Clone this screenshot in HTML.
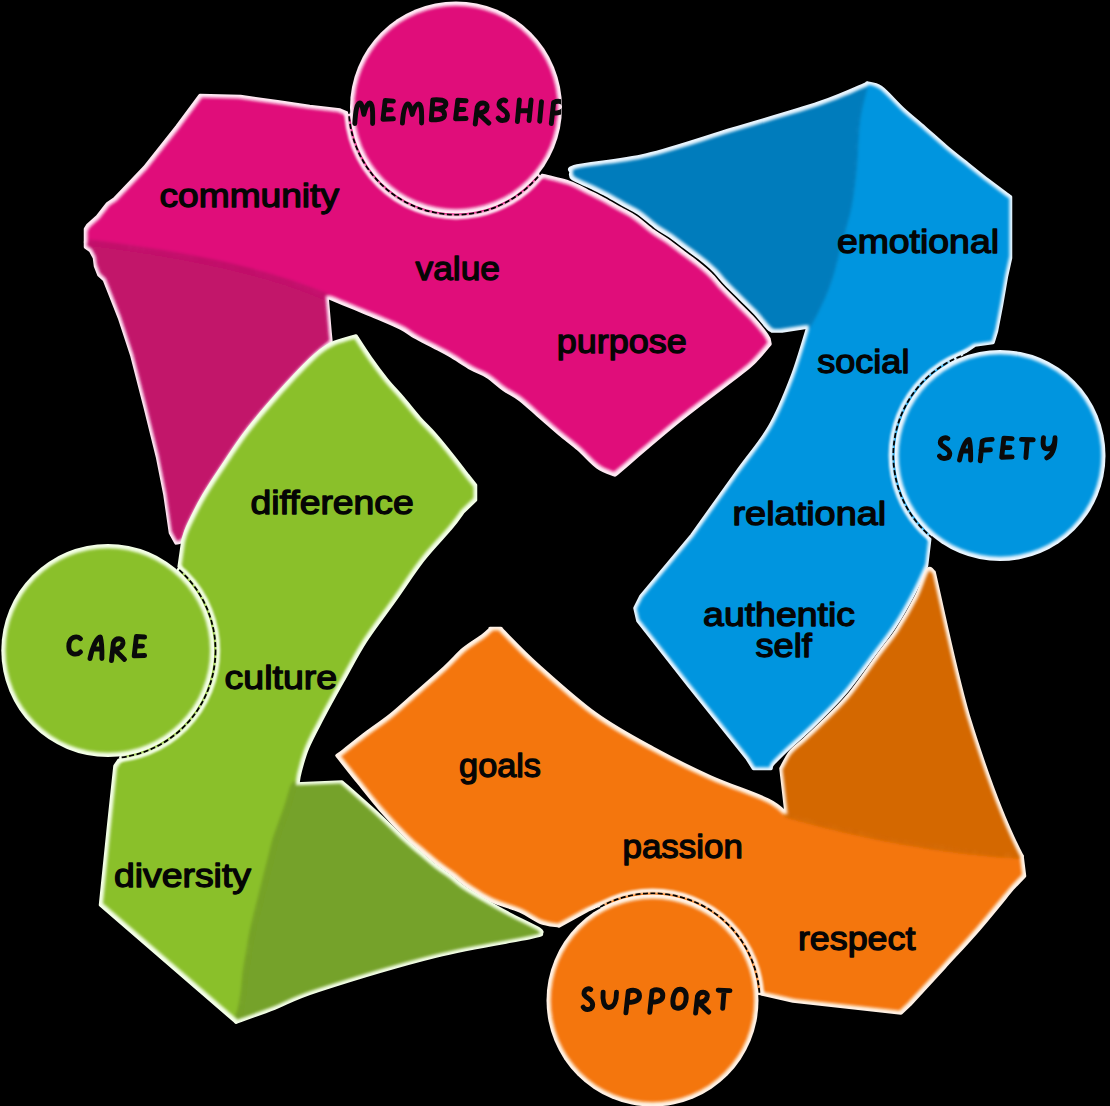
<!DOCTYPE html>
<html><head><meta charset="utf-8"><title>Belonging</title>
<style>
html,body{margin:0;padding:0;background:#000;width:1110px;height:1106px;overflow:hidden}
svg{display:block}
.lbl{font-family:"Liberation Sans",sans-serif;font-weight:normal;fill:#050505;stroke:#050505;stroke-width:1.3px;stroke-linejoin:round}
.hd{fill:none;stroke:#0a0a0a;stroke-linecap:round;stroke-linejoin:round}
</style></head>
<body>
<svg width="1110" height="1106" viewBox="0 0 1110 1106">
<defs>
<filter id="bl1" x="-5%" y="-5%" width="110%" height="110%"><feGaussianBlur stdDeviation="1.5"/></filter>
<filter id="er1" x="-5%" y="-5%" width="110%" height="110%"><feMorphology operator="erode" radius="1.6"/><feGaussianBlur stdDeviation="1.6"/></filter>
<filter id="bl0" x="-5%" y="-5%" width="110%" height="110%"><feGaussianBlur stdDeviation="0.9"/></filter>
<filter id="bl2" x="-5%" y="-5%" width="110%" height="110%"><feGaussianBlur stdDeviation="2.2"/></filter>
<clipPath id="clipMem"><circle cx="456" cy="107.5" r="105.5"/></clipPath>
<clipPath id="cp_mg"><path d="M85.5,229 L88,225 L97.5,216.6 L107.6,203.6 L114.5,199 L144.5,167.5 L177,126.5 L200,95.5 L240.5,96.6 L279.5,102 L309.7,106.4 L340,110 L456,160 L545,176 C549.1,177.1 562.7,180.1 569.8,182.6 C576.9,185.1 582.1,188.4 587.8,191.2 C593.5,194.0 598.4,196.3 603.8,199.2 C609.2,202.1 615.0,205.6 620.3,208.6 C625.6,211.6 630.0,213.5 635.5,217.2 C641.0,220.9 647.7,227.1 653.0,231.0 C658.3,234.9 662.7,237.1 667.5,240.5 C672.3,243.9 677.0,247.6 681.8,251.2 C686.6,254.8 691.5,258.2 696.3,262.0 C701.0,265.8 705.9,269.7 710.3,274.0 C714.7,278.3 718.3,283.3 722.8,288.0 C727.3,292.7 732.4,297.6 737.2,302.4 C742.0,307.2 747.0,311.9 751.6,316.8 C756.2,321.7 761.7,328.3 764.6,332.0 C767.5,335.7 768.3,337.8 769.0,339.0 L770,344 C768.0,346.3 762.7,353.2 758.0,358.0 C753.3,362.8 755.2,362.0 742.0,372.5 C728.8,383.0 700.2,403.9 679.0,421.0 C657.8,438.1 625.7,466.0 615.0,475.0 C612.1,473.7 603.6,471.3 597.5,467.0 C591.4,462.7 584.8,454.7 578.5,449.2 C572.2,443.7 565.8,439.3 559.5,434.0 C553.2,428.7 547.1,423.2 540.5,417.5 C533.9,411.8 526.1,404.2 520.0,399.5 C513.9,394.8 509.1,393.1 503.6,389.3 C498.2,385.5 492.7,380.0 487.3,376.5 C481.9,373.0 477.2,372.0 471.0,368.5 C464.8,365.0 456.0,358.9 449.8,355.3 C443.6,351.7 439.5,349.7 433.6,346.6 C427.7,343.5 420.0,339.9 414.6,336.8 C409.2,333.7 407.4,331.4 401.0,328.1 C394.6,324.9 384.2,320.6 376.5,317.3 C368.8,314.0 363.2,311.9 355.0,308.5 C346.8,305.1 331.7,298.9 327.0,297.0 C250,264 150,250 85.5,242 Z"/><path d="M85.5,242 C150,250 250,264 327,297 L330,332 L331,342 C327.7,344.8 320.0,350.2 311.0,359.0 C302.0,367.8 287.8,382.8 277.0,395.0 C266.2,407.2 254.8,420.5 246.0,432.0 C237.2,443.5 231.0,453.5 224.0,464.0 C217.0,474.5 210.0,484.7 204.0,495.0 C198.0,505.3 191.5,518.5 188.0,526.0 C184.5,533.5 185.0,537.2 183.0,540.0 C181.0,542.8 177.2,542.5 176.0,543.0 L170.5,533 L165,495 L157.5,457 L145,406.6 L132,356 L119.5,318 L104.5,280 L99,275 L95.5,266 L94.5,258 L90.5,250.5 L85.5,247 Z"/></clipPath><clipPath id="cp_bl"><path d="M571,172 C572.0,171.0 564.4,168.8 577.0,166.0 C589.6,163.2 620.5,161.2 646.5,155.0 C672.5,148.8 704.2,137.7 733.0,129.0 C761.8,120.3 796.7,110.6 819.0,103.0 C841.3,95.4 859.0,86.8 867.0,83.5 C865.7,89.4 860.9,105.0 859.0,119.0 C857.1,133.0 857.0,153.4 855.6,167.6 C854.2,181.8 853.1,191.8 850.7,204.0 C848.3,216.2 844.2,228.5 841.0,240.7 C837.8,252.9 834.5,267.1 831.2,277.3 C828.0,287.5 824.8,294.4 821.5,301.7 C818.2,309.0 814.0,317.0 811.7,321.2 C809.5,325.4 808.6,326.0 808.0,327.0 L782,331 L772,331 C771.3,330.5 770.8,331.0 767.9,328.0 C765.0,325.0 759.5,317.7 754.9,312.8 C750.3,307.9 745.3,303.2 740.5,298.4 C735.7,293.6 730.5,288.7 726.0,284.0 C721.5,279.3 717.9,274.3 713.5,270.0 C709.1,265.7 704.3,261.8 699.5,258.0 C694.7,254.2 689.7,250.8 684.9,247.2 C680.1,243.6 675.3,239.7 670.5,236.3 C665.7,232.9 661.3,230.9 656.0,227.0 C650.7,223.1 644.0,216.8 638.5,213.0 C633.0,209.2 628.3,207.4 623.0,204.4 C617.7,201.4 611.9,197.9 606.5,195.0 C601.1,192.1 596.2,189.8 590.5,187.0 C584.8,184.2 575.8,180.9 572.5,178.4 C569.2,175.9 571.2,173.1 571.0,172.0 Z"/><path d="M867,83 C869.3,83.8 875.0,83.2 881.0,87.5 C887.0,91.8 895.8,102.3 903.0,109.0 C910.2,115.7 917.3,121.2 924.5,127.5 C931.7,133.8 938.8,140.4 946.0,146.5 C953.2,152.6 960.3,158.1 967.5,163.8 C974.7,169.6 981.8,175.5 989.0,181.0 C996.2,186.5 1006.9,194.3 1010.5,197.0 L1010.5,258 L1006.5,276 L1001.5,305 L996.5,331 L993,342.5 L975,345 L950,362 L929,545 L926.5,566 C924.4,570.6 918.9,583.5 913.6,593.6 C908.3,603.7 900.9,616.9 894.6,626.6 C888.3,636.3 884.3,640.9 876.0,652.0 C867.7,663.1 854.9,681.2 845.0,693.0 C835.1,704.8 823.7,715.3 816.5,722.5 C809.3,729.7 806.8,731.8 802.0,736.2 C797.2,740.7 792.4,744.6 787.6,749.2 C782.8,753.8 775.9,760.5 773.1,763.7 C770.3,766.9 771.4,767.7 771.0,768.5 L753.5,768.5 L747.5,759 L689,686 L638,621 L635,608  L641,596 L692,535 C699.5,524.5 724.1,490.0 737.0,472.0 C749.9,454.0 760.3,442.8 769.5,427.0 C778.7,411.2 785.6,393.7 792.0,377.0 C798.4,360.3 805.3,335.3 808.0,327.0 C808.6,326.0 809.5,325.4 811.7,321.2 C814.0,317.0 818.2,309.0 821.5,301.7 C824.8,294.4 828.0,287.5 831.2,277.3 C834.5,267.1 837.8,252.9 841.0,240.7 C844.2,228.5 848.3,216.2 850.7,204.0 C853.1,191.8 854.2,181.8 855.6,167.6 C857.0,153.4 857.1,133.0 859.0,119.0 C860.9,105.0 865.7,89.4 867.0,83.5 Z"/></clipPath><clipPath id="cp_or"><path d="M490,628.5 L501,628.5 C501.8,629.4 499.9,627.9 506.0,634.0 C512.1,640.1 522.7,651.7 537.6,665.0 C552.5,678.3 576.1,699.8 595.3,713.7 C614.5,727.6 633.8,737.8 653.0,748.3 C672.2,758.8 691.4,768.4 710.6,777.0 C729.8,785.6 755.1,793.7 768.0,800.0 C780.9,806.3 784.7,812.5 788.0,815.0 C870,838 950,852 1022,856 L1024.5,876 L1013,888 C1007.3,894.8 990.4,915.8 979.0,929.0 C967.6,942.2 956.0,954.4 944.5,967.0 C933.0,979.6 915.8,998.2 910.0,1004.5 L901,1013 L793,1001 L700,980 L600,905 L588,910 L559,926 C555.8,925.3 546.5,924.5 540.0,922.0 C533.5,919.5 528.2,914.6 520.0,911.0 C511.8,907.4 499.8,904.5 491.0,900.3 C482.2,896.1 473.3,890.0 467.0,885.8 C460.7,881.5 458.0,878.5 453.0,874.8 C448.0,871.0 442.3,867.5 437.0,863.3 C431.7,859.1 426.2,854.2 421.0,849.8 C415.8,845.4 412.8,843.6 406.0,836.8 C399.2,830.0 388.0,818.1 380.0,809.0 C372.0,799.9 365.2,790.9 358.0,782.0 C350.8,773.1 340.5,759.9 337.0,755.5 C339.4,754.3 341.8,752.2 346.5,748.5 C351.2,744.8 358.7,738.7 366.0,733.2 C373.3,727.7 382.2,721.9 390.3,715.4 C398.4,708.9 405.4,702.3 414.5,694.3 C423.6,686.3 436.6,675.0 444.8,667.5 C453.0,660.0 457.2,654.5 463.5,649.2 C469.8,643.9 477.9,639.4 482.5,635.9 C487.1,632.4 489.6,629.7 491.0,628.5 Z"/><path d="M781,768.5 C782.6,765.8 786.4,756.9 790.4,752.0 C794.4,747.1 800.0,743.5 804.8,739.0 C809.6,734.5 812.1,732.5 819.3,725.3 C826.5,718.1 838.0,707.9 848.0,696.0 C858.0,684.1 870.8,665.1 879.0,654.0 C887.2,642.9 891.2,639.0 897.4,629.4 C903.6,619.8 911.4,606.3 916.4,596.4 C921.4,586.5 924.5,574.1 927.4,570.0 C930.3,565.9 932.9,571.7 934.0,572.0 C945,620 955,670 968,715 C985,770 1003,820 1022,856 C950,852 870,838 788,815 L786,812 Z"/></clipPath><clipPath id="cp_gr"><path d="M356,336 C358.4,339.7 365.4,350.7 370.5,358.0 C375.6,365.3 381.4,373.1 386.8,379.8 C392.2,386.5 397.6,391.9 403.0,398.2 C408.4,404.5 413.9,411.6 419.3,417.8 C424.7,424.0 429.9,428.5 435.6,435.1 C441.4,441.7 448.5,450.6 453.8,457.3 C459.1,464.0 465.3,472.2 467.6,475.2 L475.5,485 L475.5,500 L463,512 C461.0,514.7 457.7,520.0 451.0,528.0 C444.3,536.0 432.4,547.9 423.0,560.0 C413.6,572.1 404.1,587.0 394.5,600.5 C384.9,614.0 374.2,627.5 365.5,641.0 C356.8,654.5 349.8,668.5 342.5,681.5 C335.2,694.5 327.8,707.9 322.0,719.0 C316.2,730.1 311.2,739.2 307.5,748.0 C303.8,756.8 301.6,766.2 300.0,772.0 C298.4,777.8 298.3,781.2 298.0,783.0 L293,788 C292.0,791.3 288.8,802.3 287.0,808.0 C285.2,813.7 284.0,816.3 282.0,822.0 C280.0,827.7 276.9,835.7 275.0,842.0 C273.1,848.3 272.2,853.4 270.5,860.0 C268.8,866.6 266.7,874.8 265.0,881.5 C263.3,888.2 262.4,891.9 260.4,900.0 C258.4,908.1 255.0,920.8 253.0,930.0 C251.0,939.2 249.8,947.7 248.5,955.0 C247.2,962.3 246.2,967.7 245.3,974.0 C244.5,980.3 244.3,986.7 243.4,993.0 C242.5,999.3 241.2,1007.2 240.0,1012.0 C238.8,1016.8 236.7,1020.3 236.0,1022.0 L100.5,905 L108.5,827 L115,766 L160,700 L183,540 C183.8,537.7 184.5,533.5 188.0,526.0 C191.5,518.5 198.0,505.3 204.0,495.0 C210.0,484.7 217.0,474.5 224.0,464.0 C231.0,453.5 237.2,443.5 246.0,432.0 C254.8,420.5 266.2,407.2 277.0,395.0 C287.8,382.8 302.0,367.5 311.0,359.0 C320.0,350.5 323.5,347.8 331.0,344.0 C338.5,340.2 351.8,337.3 356.0,336.0 Z"/><path d="M293,788 L296,784 L342,782 C348.2,787.5 368.7,805.5 379.0,815.0 C389.3,824.5 397.3,833.0 404.0,839.2 C410.7,845.4 413.8,847.8 419.0,852.2 C424.2,856.6 429.7,861.5 435.0,865.7 C440.3,869.9 446.0,873.5 451.0,877.2 C456.0,881.0 458.7,884.0 465.0,888.2 C471.3,892.5 481.5,898.4 489.0,902.7 C496.5,907.0 501.5,909.8 509.8,914.2 C518.1,918.6 533.8,925.7 539.0,929.0 C544.2,932.3 540.7,933.2 541.0,934.0 C539.2,934.6 547.5,933.8 530.0,937.5 C512.5,941.2 471.4,947.2 436.0,956.0 C400.6,964.8 344.7,981.8 317.8,990.5 C290.9,999.2 288.2,1002.8 274.6,1008.0 C261.0,1013.2 242.4,1019.7 236.0,1022.0 C236.7,1020.3 238.8,1016.8 240.0,1012.0 C241.2,1007.2 242.5,999.3 243.4,993.0 C244.3,986.7 244.5,980.3 245.3,974.0 C246.2,967.7 247.2,962.3 248.5,955.0 C249.8,947.7 251.0,939.2 253.0,930.0 C255.0,920.8 258.4,908.1 260.4,900.0 C262.4,891.9 263.3,888.2 265.0,881.5 C266.7,874.8 268.8,866.6 270.5,860.0 C272.2,853.4 273.1,848.3 275.0,842.0 C276.9,835.7 280.0,827.7 282.0,822.0 C284.0,816.3 285.2,813.7 287.0,808.0 C288.8,802.3 292.0,791.3 293.0,788.0 Z"/></clipPath>
</defs>
<rect width="1110" height="1106" fill="#000"/>

<g>
<path d="M85.5,229 L88,225 L97.5,216.6 L107.6,203.6 L114.5,199 L144.5,167.5 L177,126.5 L200,95.5 L240.5,96.6 L279.5,102 L309.7,106.4 L340,110 L456,160 L545,176 C549.1,177.1 562.7,180.1 569.8,182.6 C576.9,185.1 582.1,188.4 587.8,191.2 C593.5,194.0 598.4,196.3 603.8,199.2 C609.2,202.1 615.0,205.6 620.3,208.6 C625.6,211.6 630.0,213.5 635.5,217.2 C641.0,220.9 647.7,227.1 653.0,231.0 C658.3,234.9 662.7,237.1 667.5,240.5 C672.3,243.9 677.0,247.6 681.8,251.2 C686.6,254.8 691.5,258.2 696.3,262.0 C701.0,265.8 705.9,269.7 710.3,274.0 C714.7,278.3 718.3,283.3 722.8,288.0 C727.3,292.7 732.4,297.6 737.2,302.4 C742.0,307.2 747.0,311.9 751.6,316.8 C756.2,321.7 761.7,328.3 764.6,332.0 C767.5,335.7 768.3,337.8 769.0,339.0 L770,344 C768.0,346.3 762.7,353.2 758.0,358.0 C753.3,362.8 755.2,362.0 742.0,372.5 C728.8,383.0 700.2,403.9 679.0,421.0 C657.8,438.1 625.7,466.0 615.0,475.0 C612.1,473.7 603.6,471.3 597.5,467.0 C591.4,462.7 584.8,454.7 578.5,449.2 C572.2,443.7 565.8,439.3 559.5,434.0 C553.2,428.7 547.1,423.2 540.5,417.5 C533.9,411.8 526.1,404.2 520.0,399.5 C513.9,394.8 509.1,393.1 503.6,389.3 C498.2,385.5 492.7,380.0 487.3,376.5 C481.9,373.0 477.2,372.0 471.0,368.5 C464.8,365.0 456.0,358.9 449.8,355.3 C443.6,351.7 439.5,349.7 433.6,346.6 C427.7,343.5 420.0,339.9 414.6,336.8 C409.2,333.7 407.4,331.4 401.0,328.1 C394.6,324.9 384.2,320.6 376.5,317.3 C368.8,314.0 363.2,311.9 355.0,308.5 C346.8,305.1 331.7,298.9 327.0,297.0 C250,264 150,250 85.5,242 Z" fill="#FFEAF4" stroke="#FFEAF4" stroke-width="3.5" stroke-linejoin="round"/>
<path d="M85.5,242 C150,250 250,264 327,297 L330,332 L331,342 C327.7,344.8 320.0,350.2 311.0,359.0 C302.0,367.8 287.8,382.8 277.0,395.0 C266.2,407.2 254.8,420.5 246.0,432.0 C237.2,443.5 231.0,453.5 224.0,464.0 C217.0,474.5 210.0,484.7 204.0,495.0 C198.0,505.3 191.5,518.5 188.0,526.0 C184.5,533.5 185.0,537.2 183.0,540.0 C181.0,542.8 177.2,542.5 176.0,543.0 L170.5,533 L165,495 L157.5,457 L145,406.6 L132,356 L119.5,318 L104.5,280 L99,275 L95.5,266 L94.5,258 L90.5,250.5 L85.5,247 Z" fill="#FFEAF4" stroke="#FFEAF4" stroke-width="3.5" stroke-linejoin="round"/>
<g filter="url(#er1)">
<path d="M85.5,229 L88,225 L97.5,216.6 L107.6,203.6 L114.5,199 L144.5,167.5 L177,126.5 L200,95.5 L240.5,96.6 L279.5,102 L309.7,106.4 L340,110 L456,160 L545,176 C549.1,177.1 562.7,180.1 569.8,182.6 C576.9,185.1 582.1,188.4 587.8,191.2 C593.5,194.0 598.4,196.3 603.8,199.2 C609.2,202.1 615.0,205.6 620.3,208.6 C625.6,211.6 630.0,213.5 635.5,217.2 C641.0,220.9 647.7,227.1 653.0,231.0 C658.3,234.9 662.7,237.1 667.5,240.5 C672.3,243.9 677.0,247.6 681.8,251.2 C686.6,254.8 691.5,258.2 696.3,262.0 C701.0,265.8 705.9,269.7 710.3,274.0 C714.7,278.3 718.3,283.3 722.8,288.0 C727.3,292.7 732.4,297.6 737.2,302.4 C742.0,307.2 747.0,311.9 751.6,316.8 C756.2,321.7 761.7,328.3 764.6,332.0 C767.5,335.7 768.3,337.8 769.0,339.0 L770,344 C768.0,346.3 762.7,353.2 758.0,358.0 C753.3,362.8 755.2,362.0 742.0,372.5 C728.8,383.0 700.2,403.9 679.0,421.0 C657.8,438.1 625.7,466.0 615.0,475.0 C612.1,473.7 603.6,471.3 597.5,467.0 C591.4,462.7 584.8,454.7 578.5,449.2 C572.2,443.7 565.8,439.3 559.5,434.0 C553.2,428.7 547.1,423.2 540.5,417.5 C533.9,411.8 526.1,404.2 520.0,399.5 C513.9,394.8 509.1,393.1 503.6,389.3 C498.2,385.5 492.7,380.0 487.3,376.5 C481.9,373.0 477.2,372.0 471.0,368.5 C464.8,365.0 456.0,358.9 449.8,355.3 C443.6,351.7 439.5,349.7 433.6,346.6 C427.7,343.5 420.0,339.9 414.6,336.8 C409.2,333.7 407.4,331.4 401.0,328.1 C394.6,324.9 384.2,320.6 376.5,317.3 C368.8,314.0 363.2,311.9 355.0,308.5 C346.8,305.1 331.7,298.9 327.0,297.0 C250,264 150,250 85.5,242 Z" fill="#E0117A"/>
<path d="M85.5,242 C150,250 250,264 327,297 L330,332 L331,342 C327.7,344.8 320.0,350.2 311.0,359.0 C302.0,367.8 287.8,382.8 277.0,395.0 C266.2,407.2 254.8,420.5 246.0,432.0 C237.2,443.5 231.0,453.5 224.0,464.0 C217.0,474.5 210.0,484.7 204.0,495.0 C198.0,505.3 191.5,518.5 188.0,526.0 C184.5,533.5 185.0,537.2 183.0,540.0 C181.0,542.8 177.2,542.5 176.0,543.0 L170.5,533 L165,495 L157.5,457 L145,406.6 L132,356 L119.5,318 L104.5,280 L99,275 L95.5,266 L94.5,258 L90.5,250.5 L85.5,247 Z" fill="#C2126A" stroke="#C2126A" stroke-width="1.6" stroke-linejoin="round"/>
</g>
</g>
<g>
<path d="M571,172 C572.0,171.0 564.4,168.8 577.0,166.0 C589.6,163.2 620.5,161.2 646.5,155.0 C672.5,148.8 704.2,137.7 733.0,129.0 C761.8,120.3 796.7,110.6 819.0,103.0 C841.3,95.4 859.0,86.8 867.0,83.5 C865.7,89.4 860.9,105.0 859.0,119.0 C857.1,133.0 857.0,153.4 855.6,167.6 C854.2,181.8 853.1,191.8 850.7,204.0 C848.3,216.2 844.2,228.5 841.0,240.7 C837.8,252.9 834.5,267.1 831.2,277.3 C828.0,287.5 824.8,294.4 821.5,301.7 C818.2,309.0 814.0,317.0 811.7,321.2 C809.5,325.4 808.6,326.0 808.0,327.0 L782,331 L772,331 C771.3,330.5 770.8,331.0 767.9,328.0 C765.0,325.0 759.5,317.7 754.9,312.8 C750.3,307.9 745.3,303.2 740.5,298.4 C735.7,293.6 730.5,288.7 726.0,284.0 C721.5,279.3 717.9,274.3 713.5,270.0 C709.1,265.7 704.3,261.8 699.5,258.0 C694.7,254.2 689.7,250.8 684.9,247.2 C680.1,243.6 675.3,239.7 670.5,236.3 C665.7,232.9 661.3,230.9 656.0,227.0 C650.7,223.1 644.0,216.8 638.5,213.0 C633.0,209.2 628.3,207.4 623.0,204.4 C617.7,201.4 611.9,197.9 606.5,195.0 C601.1,192.1 596.2,189.8 590.5,187.0 C584.8,184.2 575.8,180.9 572.5,178.4 C569.2,175.9 571.2,173.1 571.0,172.0 Z" fill="#EAF6FF" stroke="#EAF6FF" stroke-width="3.5" stroke-linejoin="round"/>
<path d="M867,83 C869.3,83.8 875.0,83.2 881.0,87.5 C887.0,91.8 895.8,102.3 903.0,109.0 C910.2,115.7 917.3,121.2 924.5,127.5 C931.7,133.8 938.8,140.4 946.0,146.5 C953.2,152.6 960.3,158.1 967.5,163.8 C974.7,169.6 981.8,175.5 989.0,181.0 C996.2,186.5 1006.9,194.3 1010.5,197.0 L1010.5,258 L1006.5,276 L1001.5,305 L996.5,331 L993,342.5 L975,345 L950,362 L929,545 L926.5,566 C924.4,570.6 918.9,583.5 913.6,593.6 C908.3,603.7 900.9,616.9 894.6,626.6 C888.3,636.3 884.3,640.9 876.0,652.0 C867.7,663.1 854.9,681.2 845.0,693.0 C835.1,704.8 823.7,715.3 816.5,722.5 C809.3,729.7 806.8,731.8 802.0,736.2 C797.2,740.7 792.4,744.6 787.6,749.2 C782.8,753.8 775.9,760.5 773.1,763.7 C770.3,766.9 771.4,767.7 771.0,768.5 L753.5,768.5 L747.5,759 L689,686 L638,621 L635,608  L641,596 L692,535 C699.5,524.5 724.1,490.0 737.0,472.0 C749.9,454.0 760.3,442.8 769.5,427.0 C778.7,411.2 785.6,393.7 792.0,377.0 C798.4,360.3 805.3,335.3 808.0,327.0 C808.6,326.0 809.5,325.4 811.7,321.2 C814.0,317.0 818.2,309.0 821.5,301.7 C824.8,294.4 828.0,287.5 831.2,277.3 C834.5,267.1 837.8,252.9 841.0,240.7 C844.2,228.5 848.3,216.2 850.7,204.0 C853.1,191.8 854.2,181.8 855.6,167.6 C857.0,153.4 857.1,133.0 859.0,119.0 C860.9,105.0 865.7,89.4 867.0,83.5 Z" fill="#EAF6FF" stroke="#EAF6FF" stroke-width="3.5" stroke-linejoin="round"/>
<g filter="url(#er1)">
<path d="M571,172 C572.0,171.0 564.4,168.8 577.0,166.0 C589.6,163.2 620.5,161.2 646.5,155.0 C672.5,148.8 704.2,137.7 733.0,129.0 C761.8,120.3 796.7,110.6 819.0,103.0 C841.3,95.4 859.0,86.8 867.0,83.5 C865.7,89.4 860.9,105.0 859.0,119.0 C857.1,133.0 857.0,153.4 855.6,167.6 C854.2,181.8 853.1,191.8 850.7,204.0 C848.3,216.2 844.2,228.5 841.0,240.7 C837.8,252.9 834.5,267.1 831.2,277.3 C828.0,287.5 824.8,294.4 821.5,301.7 C818.2,309.0 814.0,317.0 811.7,321.2 C809.5,325.4 808.6,326.0 808.0,327.0 L782,331 L772,331 C771.3,330.5 770.8,331.0 767.9,328.0 C765.0,325.0 759.5,317.7 754.9,312.8 C750.3,307.9 745.3,303.2 740.5,298.4 C735.7,293.6 730.5,288.7 726.0,284.0 C721.5,279.3 717.9,274.3 713.5,270.0 C709.1,265.7 704.3,261.8 699.5,258.0 C694.7,254.2 689.7,250.8 684.9,247.2 C680.1,243.6 675.3,239.7 670.5,236.3 C665.7,232.9 661.3,230.9 656.0,227.0 C650.7,223.1 644.0,216.8 638.5,213.0 C633.0,209.2 628.3,207.4 623.0,204.4 C617.7,201.4 611.9,197.9 606.5,195.0 C601.1,192.1 596.2,189.8 590.5,187.0 C584.8,184.2 575.8,180.9 572.5,178.4 C569.2,175.9 571.2,173.1 571.0,172.0 Z" fill="#007CBC"/>
<path d="M867,83 C869.3,83.8 875.0,83.2 881.0,87.5 C887.0,91.8 895.8,102.3 903.0,109.0 C910.2,115.7 917.3,121.2 924.5,127.5 C931.7,133.8 938.8,140.4 946.0,146.5 C953.2,152.6 960.3,158.1 967.5,163.8 C974.7,169.6 981.8,175.5 989.0,181.0 C996.2,186.5 1006.9,194.3 1010.5,197.0 L1010.5,258 L1006.5,276 L1001.5,305 L996.5,331 L993,342.5 L975,345 L950,362 L929,545 L926.5,566 C924.4,570.6 918.9,583.5 913.6,593.6 C908.3,603.7 900.9,616.9 894.6,626.6 C888.3,636.3 884.3,640.9 876.0,652.0 C867.7,663.1 854.9,681.2 845.0,693.0 C835.1,704.8 823.7,715.3 816.5,722.5 C809.3,729.7 806.8,731.8 802.0,736.2 C797.2,740.7 792.4,744.6 787.6,749.2 C782.8,753.8 775.9,760.5 773.1,763.7 C770.3,766.9 771.4,767.7 771.0,768.5 L753.5,768.5 L747.5,759 L689,686 L638,621 L635,608  L641,596 L692,535 C699.5,524.5 724.1,490.0 737.0,472.0 C749.9,454.0 760.3,442.8 769.5,427.0 C778.7,411.2 785.6,393.7 792.0,377.0 C798.4,360.3 805.3,335.3 808.0,327.0 C808.6,326.0 809.5,325.4 811.7,321.2 C814.0,317.0 818.2,309.0 821.5,301.7 C824.8,294.4 828.0,287.5 831.2,277.3 C834.5,267.1 837.8,252.9 841.0,240.7 C844.2,228.5 848.3,216.2 850.7,204.0 C853.1,191.8 854.2,181.8 855.6,167.6 C857.0,153.4 857.1,133.0 859.0,119.0 C860.9,105.0 865.7,89.4 867.0,83.5 Z" fill="#0095DF" stroke="#0095DF" stroke-width="1.6" stroke-linejoin="round"/>
</g>
</g>
<g>
<path d="M490,628.5 L501,628.5 C501.8,629.4 499.9,627.9 506.0,634.0 C512.1,640.1 522.7,651.7 537.6,665.0 C552.5,678.3 576.1,699.8 595.3,713.7 C614.5,727.6 633.8,737.8 653.0,748.3 C672.2,758.8 691.4,768.4 710.6,777.0 C729.8,785.6 755.1,793.7 768.0,800.0 C780.9,806.3 784.7,812.5 788.0,815.0 C870,838 950,852 1022,856 L1024.5,876 L1013,888 C1007.3,894.8 990.4,915.8 979.0,929.0 C967.6,942.2 956.0,954.4 944.5,967.0 C933.0,979.6 915.8,998.2 910.0,1004.5 L901,1013 L793,1001 L700,980 L600,905 L588,910 L559,926 C555.8,925.3 546.5,924.5 540.0,922.0 C533.5,919.5 528.2,914.6 520.0,911.0 C511.8,907.4 499.8,904.5 491.0,900.3 C482.2,896.1 473.3,890.0 467.0,885.8 C460.7,881.5 458.0,878.5 453.0,874.8 C448.0,871.0 442.3,867.5 437.0,863.3 C431.7,859.1 426.2,854.2 421.0,849.8 C415.8,845.4 412.8,843.6 406.0,836.8 C399.2,830.0 388.0,818.1 380.0,809.0 C372.0,799.9 365.2,790.9 358.0,782.0 C350.8,773.1 340.5,759.9 337.0,755.5 C339.4,754.3 341.8,752.2 346.5,748.5 C351.2,744.8 358.7,738.7 366.0,733.2 C373.3,727.7 382.2,721.9 390.3,715.4 C398.4,708.9 405.4,702.3 414.5,694.3 C423.6,686.3 436.6,675.0 444.8,667.5 C453.0,660.0 457.2,654.5 463.5,649.2 C469.8,643.9 477.9,639.4 482.5,635.9 C487.1,632.4 489.6,629.7 491.0,628.5 Z" fill="#FFF2E6" stroke="#FFF2E6" stroke-width="3.5" stroke-linejoin="round"/>
<path d="M781,768.5 C782.6,765.8 786.4,756.9 790.4,752.0 C794.4,747.1 800.0,743.5 804.8,739.0 C809.6,734.5 812.1,732.5 819.3,725.3 C826.5,718.1 838.0,707.9 848.0,696.0 C858.0,684.1 870.8,665.1 879.0,654.0 C887.2,642.9 891.2,639.0 897.4,629.4 C903.6,619.8 911.4,606.3 916.4,596.4 C921.4,586.5 924.5,574.1 927.4,570.0 C930.3,565.9 932.9,571.7 934.0,572.0 C945,620 955,670 968,715 C985,770 1003,820 1022,856 C950,852 870,838 788,815 L786,812 Z" fill="#FFF2E6" stroke="#FFF2E6" stroke-width="3.5" stroke-linejoin="round"/>
<g filter="url(#er1)">
<path d="M490,628.5 L501,628.5 C501.8,629.4 499.9,627.9 506.0,634.0 C512.1,640.1 522.7,651.7 537.6,665.0 C552.5,678.3 576.1,699.8 595.3,713.7 C614.5,727.6 633.8,737.8 653.0,748.3 C672.2,758.8 691.4,768.4 710.6,777.0 C729.8,785.6 755.1,793.7 768.0,800.0 C780.9,806.3 784.7,812.5 788.0,815.0 C870,838 950,852 1022,856 L1024.5,876 L1013,888 C1007.3,894.8 990.4,915.8 979.0,929.0 C967.6,942.2 956.0,954.4 944.5,967.0 C933.0,979.6 915.8,998.2 910.0,1004.5 L901,1013 L793,1001 L700,980 L600,905 L588,910 L559,926 C555.8,925.3 546.5,924.5 540.0,922.0 C533.5,919.5 528.2,914.6 520.0,911.0 C511.8,907.4 499.8,904.5 491.0,900.3 C482.2,896.1 473.3,890.0 467.0,885.8 C460.7,881.5 458.0,878.5 453.0,874.8 C448.0,871.0 442.3,867.5 437.0,863.3 C431.7,859.1 426.2,854.2 421.0,849.8 C415.8,845.4 412.8,843.6 406.0,836.8 C399.2,830.0 388.0,818.1 380.0,809.0 C372.0,799.9 365.2,790.9 358.0,782.0 C350.8,773.1 340.5,759.9 337.0,755.5 C339.4,754.3 341.8,752.2 346.5,748.5 C351.2,744.8 358.7,738.7 366.0,733.2 C373.3,727.7 382.2,721.9 390.3,715.4 C398.4,708.9 405.4,702.3 414.5,694.3 C423.6,686.3 436.6,675.0 444.8,667.5 C453.0,660.0 457.2,654.5 463.5,649.2 C469.8,643.9 477.9,639.4 482.5,635.9 C487.1,632.4 489.6,629.7 491.0,628.5 Z" fill="#F47608"/>
<path d="M781,768.5 C782.6,765.8 786.4,756.9 790.4,752.0 C794.4,747.1 800.0,743.5 804.8,739.0 C809.6,734.5 812.1,732.5 819.3,725.3 C826.5,718.1 838.0,707.9 848.0,696.0 C858.0,684.1 870.8,665.1 879.0,654.0 C887.2,642.9 891.2,639.0 897.4,629.4 C903.6,619.8 911.4,606.3 916.4,596.4 C921.4,586.5 924.5,574.1 927.4,570.0 C930.3,565.9 932.9,571.7 934.0,572.0 C945,620 955,670 968,715 C985,770 1003,820 1022,856 C950,852 870,838 788,815 L786,812 Z" fill="#D46806" stroke="#D46806" stroke-width="1.6" stroke-linejoin="round"/>
</g>
</g>
<g>
<path d="M356,336 C358.4,339.7 365.4,350.7 370.5,358.0 C375.6,365.3 381.4,373.1 386.8,379.8 C392.2,386.5 397.6,391.9 403.0,398.2 C408.4,404.5 413.9,411.6 419.3,417.8 C424.7,424.0 429.9,428.5 435.6,435.1 C441.4,441.7 448.5,450.6 453.8,457.3 C459.1,464.0 465.3,472.2 467.6,475.2 L475.5,485 L475.5,500 L463,512 C461.0,514.7 457.7,520.0 451.0,528.0 C444.3,536.0 432.4,547.9 423.0,560.0 C413.6,572.1 404.1,587.0 394.5,600.5 C384.9,614.0 374.2,627.5 365.5,641.0 C356.8,654.5 349.8,668.5 342.5,681.5 C335.2,694.5 327.8,707.9 322.0,719.0 C316.2,730.1 311.2,739.2 307.5,748.0 C303.8,756.8 301.6,766.2 300.0,772.0 C298.4,777.8 298.3,781.2 298.0,783.0 L293,788 C292.0,791.3 288.8,802.3 287.0,808.0 C285.2,813.7 284.0,816.3 282.0,822.0 C280.0,827.7 276.9,835.7 275.0,842.0 C273.1,848.3 272.2,853.4 270.5,860.0 C268.8,866.6 266.7,874.8 265.0,881.5 C263.3,888.2 262.4,891.9 260.4,900.0 C258.4,908.1 255.0,920.8 253.0,930.0 C251.0,939.2 249.8,947.7 248.5,955.0 C247.2,962.3 246.2,967.7 245.3,974.0 C244.5,980.3 244.3,986.7 243.4,993.0 C242.5,999.3 241.2,1007.2 240.0,1012.0 C238.8,1016.8 236.7,1020.3 236.0,1022.0 L100.5,905 L108.5,827 L115,766 L160,700 L183,540 C183.8,537.7 184.5,533.5 188.0,526.0 C191.5,518.5 198.0,505.3 204.0,495.0 C210.0,484.7 217.0,474.5 224.0,464.0 C231.0,453.5 237.2,443.5 246.0,432.0 C254.8,420.5 266.2,407.2 277.0,395.0 C287.8,382.8 302.0,367.5 311.0,359.0 C320.0,350.5 323.5,347.8 331.0,344.0 C338.5,340.2 351.8,337.3 356.0,336.0 Z" fill="#F4FFE8" stroke="#F4FFE8" stroke-width="3.5" stroke-linejoin="round"/>
<path d="M293,788 L296,784 L342,782 C348.2,787.5 368.7,805.5 379.0,815.0 C389.3,824.5 397.3,833.0 404.0,839.2 C410.7,845.4 413.8,847.8 419.0,852.2 C424.2,856.6 429.7,861.5 435.0,865.7 C440.3,869.9 446.0,873.5 451.0,877.2 C456.0,881.0 458.7,884.0 465.0,888.2 C471.3,892.5 481.5,898.4 489.0,902.7 C496.5,907.0 501.5,909.8 509.8,914.2 C518.1,918.6 533.8,925.7 539.0,929.0 C544.2,932.3 540.7,933.2 541.0,934.0 C539.2,934.6 547.5,933.8 530.0,937.5 C512.5,941.2 471.4,947.2 436.0,956.0 C400.6,964.8 344.7,981.8 317.8,990.5 C290.9,999.2 288.2,1002.8 274.6,1008.0 C261.0,1013.2 242.4,1019.7 236.0,1022.0 C236.7,1020.3 238.8,1016.8 240.0,1012.0 C241.2,1007.2 242.5,999.3 243.4,993.0 C244.3,986.7 244.5,980.3 245.3,974.0 C246.2,967.7 247.2,962.3 248.5,955.0 C249.8,947.7 251.0,939.2 253.0,930.0 C255.0,920.8 258.4,908.1 260.4,900.0 C262.4,891.9 263.3,888.2 265.0,881.5 C266.7,874.8 268.8,866.6 270.5,860.0 C272.2,853.4 273.1,848.3 275.0,842.0 C276.9,835.7 280.0,827.7 282.0,822.0 C284.0,816.3 285.2,813.7 287.0,808.0 C288.8,802.3 292.0,791.3 293.0,788.0 Z" fill="#F4FFE8" stroke="#F4FFE8" stroke-width="3.5" stroke-linejoin="round"/>
<g filter="url(#er1)">
<path d="M356,336 C358.4,339.7 365.4,350.7 370.5,358.0 C375.6,365.3 381.4,373.1 386.8,379.8 C392.2,386.5 397.6,391.9 403.0,398.2 C408.4,404.5 413.9,411.6 419.3,417.8 C424.7,424.0 429.9,428.5 435.6,435.1 C441.4,441.7 448.5,450.6 453.8,457.3 C459.1,464.0 465.3,472.2 467.6,475.2 L475.5,485 L475.5,500 L463,512 C461.0,514.7 457.7,520.0 451.0,528.0 C444.3,536.0 432.4,547.9 423.0,560.0 C413.6,572.1 404.1,587.0 394.5,600.5 C384.9,614.0 374.2,627.5 365.5,641.0 C356.8,654.5 349.8,668.5 342.5,681.5 C335.2,694.5 327.8,707.9 322.0,719.0 C316.2,730.1 311.2,739.2 307.5,748.0 C303.8,756.8 301.6,766.2 300.0,772.0 C298.4,777.8 298.3,781.2 298.0,783.0 L293,788 C292.0,791.3 288.8,802.3 287.0,808.0 C285.2,813.7 284.0,816.3 282.0,822.0 C280.0,827.7 276.9,835.7 275.0,842.0 C273.1,848.3 272.2,853.4 270.5,860.0 C268.8,866.6 266.7,874.8 265.0,881.5 C263.3,888.2 262.4,891.9 260.4,900.0 C258.4,908.1 255.0,920.8 253.0,930.0 C251.0,939.2 249.8,947.7 248.5,955.0 C247.2,962.3 246.2,967.7 245.3,974.0 C244.5,980.3 244.3,986.7 243.4,993.0 C242.5,999.3 241.2,1007.2 240.0,1012.0 C238.8,1016.8 236.7,1020.3 236.0,1022.0 L100.5,905 L108.5,827 L115,766 L160,700 L183,540 C183.8,537.7 184.5,533.5 188.0,526.0 C191.5,518.5 198.0,505.3 204.0,495.0 C210.0,484.7 217.0,474.5 224.0,464.0 C231.0,453.5 237.2,443.5 246.0,432.0 C254.8,420.5 266.2,407.2 277.0,395.0 C287.8,382.8 302.0,367.5 311.0,359.0 C320.0,350.5 323.5,347.8 331.0,344.0 C338.5,340.2 351.8,337.3 356.0,336.0 Z" fill="#8AC029"/>
<path d="M293,788 L296,784 L342,782 C348.2,787.5 368.7,805.5 379.0,815.0 C389.3,824.5 397.3,833.0 404.0,839.2 C410.7,845.4 413.8,847.8 419.0,852.2 C424.2,856.6 429.7,861.5 435.0,865.7 C440.3,869.9 446.0,873.5 451.0,877.2 C456.0,881.0 458.7,884.0 465.0,888.2 C471.3,892.5 481.5,898.4 489.0,902.7 C496.5,907.0 501.5,909.8 509.8,914.2 C518.1,918.6 533.8,925.7 539.0,929.0 C544.2,932.3 540.7,933.2 541.0,934.0 C539.2,934.6 547.5,933.8 530.0,937.5 C512.5,941.2 471.4,947.2 436.0,956.0 C400.6,964.8 344.7,981.8 317.8,990.5 C290.9,999.2 288.2,1002.8 274.6,1008.0 C261.0,1013.2 242.4,1019.7 236.0,1022.0 C236.7,1020.3 238.8,1016.8 240.0,1012.0 C241.2,1007.2 242.5,999.3 243.4,993.0 C244.3,986.7 244.5,980.3 245.3,974.0 C246.2,967.7 247.2,962.3 248.5,955.0 C249.8,947.7 251.0,939.2 253.0,930.0 C255.0,920.8 258.4,908.1 260.4,900.0 C262.4,891.9 263.3,888.2 265.0,881.5 C266.7,874.8 268.8,866.6 270.5,860.0 C272.2,853.4 273.1,848.3 275.0,842.0 C276.9,835.7 280.0,827.7 282.0,822.0 C284.0,816.3 285.2,813.7 287.0,808.0 C288.8,802.3 292.0,791.3 293.0,788.0 Z" fill="#75A229" stroke="#75A229" stroke-width="1.6" stroke-linejoin="round"/>
</g>
</g>
<g clip-path="url(#cp_mg)"><circle cx="456" cy="107.5" r="109.8" fill="none" stroke="#FFEAF4" stroke-width="4.2" filter="url(#bl0)"/></g>
<circle cx="456" cy="107.5" r="107.2" fill="none" stroke="#000" stroke-width="1.8" stroke-dasharray="5 2.5"/>
<circle cx="456" cy="107.5" r="106" fill="#FFEAF4"/>
<circle cx="456" cy="107.5" r="101.8" fill="#E0117A" filter="url(#bl1)"/>
<g clip-path="url(#cp_bl)"><circle cx="1000" cy="455.5" r="109.3" fill="none" stroke="#EAF6FF" stroke-width="4.2" filter="url(#bl0)"/></g>
<circle cx="1000" cy="455.5" r="106.7" fill="none" stroke="#000" stroke-width="1.8" stroke-dasharray="5 2.5"/>
<circle cx="1000" cy="455.5" r="105.5" fill="#EAF6FF"/>
<circle cx="1000" cy="455.5" r="101.3" fill="#0095DF" filter="url(#bl1)"/>
<g clip-path="url(#cp_gr)"><circle cx="107.8" cy="650.5" r="110.3" fill="none" stroke="#F4FFE8" stroke-width="4.2" filter="url(#bl0)"/></g>
<circle cx="107.8" cy="650.5" r="107.7" fill="none" stroke="#000" stroke-width="1.8" stroke-dasharray="5 2.5"/>
<circle cx="107.8" cy="650.5" r="106.5" fill="#F4FFE8"/>
<circle cx="107.8" cy="650.5" r="102.3" fill="#8AC029" filter="url(#bl1)"/>
<g clip-path="url(#cp_or)"><circle cx="652.5" cy="1000.5" r="109.8" fill="none" stroke="#FFF2E6" stroke-width="4.2" filter="url(#bl0)"/></g>
<circle cx="652.5" cy="1000.5" r="107.2" fill="none" stroke="#000" stroke-width="1.8" stroke-dasharray="5 2.5"/>
<circle cx="652.5" cy="1000.5" r="106" fill="#FFF2E6"/>
<circle cx="652.5" cy="1000.5" r="101.8" fill="#F47608" filter="url(#bl1)"/>
<g class="lbl" font-size="33">
<text x="159.5" y="206.5" textLength="179.5" lengthAdjust="spacingAndGlyphs">community</text>
<text x="415.5" y="280.2" textLength="84.5" lengthAdjust="spacingAndGlyphs">value</text>
<text x="556.7" y="353.4" textLength="130.1" lengthAdjust="spacingAndGlyphs">purpose</text>
<text x="836.9" y="253.2" textLength="162.1" lengthAdjust="spacingAndGlyphs">emotional</text>
<text x="817.3" y="373.2" textLength="92.1" lengthAdjust="spacingAndGlyphs">social</text>
<text x="732.5" y="524.5" textLength="153.7" lengthAdjust="spacingAndGlyphs">relational</text>
<text x="703.1" y="626.4" textLength="151.9" lengthAdjust="spacingAndGlyphs">authentic</text>
<text x="755.5" y="657.0" textLength="56.3" lengthAdjust="spacingAndGlyphs">self</text>
<text x="250.5" y="514.4" textLength="163.3" lengthAdjust="spacingAndGlyphs">difference</text>
<text x="224.5" y="688.7" textLength="112.7" lengthAdjust="spacingAndGlyphs">culture</text>
<text x="113.9" y="887.4" textLength="137.1" lengthAdjust="spacingAndGlyphs">diversity</text>
<text x="459.1" y="777.0" textLength="81.9" lengthAdjust="spacingAndGlyphs">goals</text>
<text x="622.5" y="858.0" textLength="120.3" lengthAdjust="spacingAndGlyphs">passion</text>
<text x="797.9" y="949.6" textLength="117.5" lengthAdjust="spacingAndGlyphs">respect</text>
</g>
<path class="hd" stroke-width="4.9" clip-path="url(#clipMem)" d="M354.8,123.5C355.5,111.2 356.9,103.0 359.8,103.0C362.0,103.0 362.9,110.2 363.9,114.3C364.9,110.2 367.1,103.0 369.7,103.0C372.6,103.0 372.9,111.2 372.6,123.5M393.4,101.1L385.2,100.5L383.0,119.2L393.4,118.8M384.3,109.8L391.3,109.8M402.4,123.0C403.2,111.5 404.8,103.9 407.9,103.9C410.2,103.9 411.2,110.6 412.2,114.4C413.4,110.6 415.7,103.9 418.4,103.9C421.6,103.9 421.9,111.5 421.6,123.0M432.8,99.9L431.3,119.8M432.8,99.9C440.1,99.5 445.9,99.9 445.9,103.9C445.9,107.9 438.6,108.9 435.0,108.9C441.5,108.9 445.1,110.8 444.4,115.8C443.7,119.8 435.7,119.8 431.3,119.8M466.1,100.8L457.8,100.2L455.6,118.9L466.1,118.5M456.9,109.5L463.9,109.5M475.2,124.1L477.3,107.0C479.3,101.7 487.4,101.7 487.1,107.0C486.7,112.4 480.6,113.0 477.9,113.0L488.8,123.1M505.7,100.7C503.5,99.2 499.2,100.2 499.0,104.7C498.8,108.8 507.3,110.0 507.5,115.5C507.6,121.6 500.1,121.6 498.2,118.1M519.4,99.9L517.4,121.5M531.1,99.9L529.1,120.5M518.3,110.7L530.2,110.7M541.5,101.7L539.7,121.2M551.3,123.5L553.6,102.4C557.7,100.6 564.5,100.6 564.5,106.8C564.5,112.3 559.1,113.2 553.2,113.2"/>
<path class="hd" stroke-width="4.9" d="M947.8,438.5C945.3,437.0 940.5,438.1 940.3,442.6C940.1,446.7 949.6,447.9 949.8,453.4C949.9,459.6 941.6,459.6 939.5,456.1M959.5,460.1C961.2,450.8 965.7,439.4 969.1,439.4C970.3,443.6 970.8,451.8 970.6,460.1M962.9,451.0L970.5,450.8M980.2,460.9L982.3,441.2C985.0,439.4 988.6,439.4 992.2,439.4M981.0,450.2L990.4,449.8M1012.1,438.6L1003.9,438.1L1001.7,457.3L1012.1,456.9M1003.0,447.6L1010.0,447.6M1021.5,439.4L1033.2,439.8M1027.3,439.8L1025.9,457.6M1043.5,437.8C1042.5,444.8 1043.1,448.9 1047.5,448.9C1051.2,448.9 1054.3,445.8 1055.0,439.8M1055.0,437.8C1055.0,446.8 1053.1,454.9 1046.8,457.9"/>
<path class="hd" stroke-width="4.9" d="M80.5,638.7C77.0,635.5 68.8,636.1 68.8,646.6C68.8,655.4 77.0,655.4 80.5,651.9M90.0,658.5C91.8,648.8 96.7,637.0 100.3,637.0C101.5,641.3 102.1,649.9 101.9,658.5M93.6,649.0L101.8,648.8M111.5,660.5L113.4,642.9C115.4,637.3 123.2,637.3 123.0,642.9C122.6,648.4 116.7,649.1 114.1,649.1L124.5,659.4M144.6,637.0L136.4,636.5L134.2,655.9L144.6,655.5M135.5,646.1L142.5,646.1"/>
<path class="hd" stroke-width="4.9" d="M590.8,989.4C588.6,987.9 584.2,989.0 584.0,993.5C583.8,997.6 592.5,998.8 592.7,1004.4C592.8,1010.6 585.2,1010.6 583.2,1007.1M603.1,992.2C602.4,999.9 603.8,1007.5 608.7,1007.5C614.4,1007.5 616.5,999.9 616.5,992.2M625.9,1012.8L628.3,991.3C632.5,989.5 639.5,989.5 639.5,995.8C639.5,1001.5 633.9,1002.4 627.8,1002.4M649.8,1012.3L652.1,990.9C656.1,989.1 662.8,989.1 662.8,995.4C662.8,1001.0 657.4,1002.0 651.7,1002.0M680.1,989.2C673.4,989.2 672.0,1000.9 673.4,1005.7C674.9,1009.6 683.9,1009.6 685.8,1000.9C687.6,993.1 683.9,989.2 680.1,989.2ZM695.6,1013.1L697.5,996.2C699.5,990.9 707.5,990.9 707.3,996.2C706.9,1001.5 700.9,1002.1 698.2,1002.1L708.8,1012.1M718.2,990.2L730.0,990.6M724.1,990.6L722.7,1008.3"/>
</svg>
</body></html>
